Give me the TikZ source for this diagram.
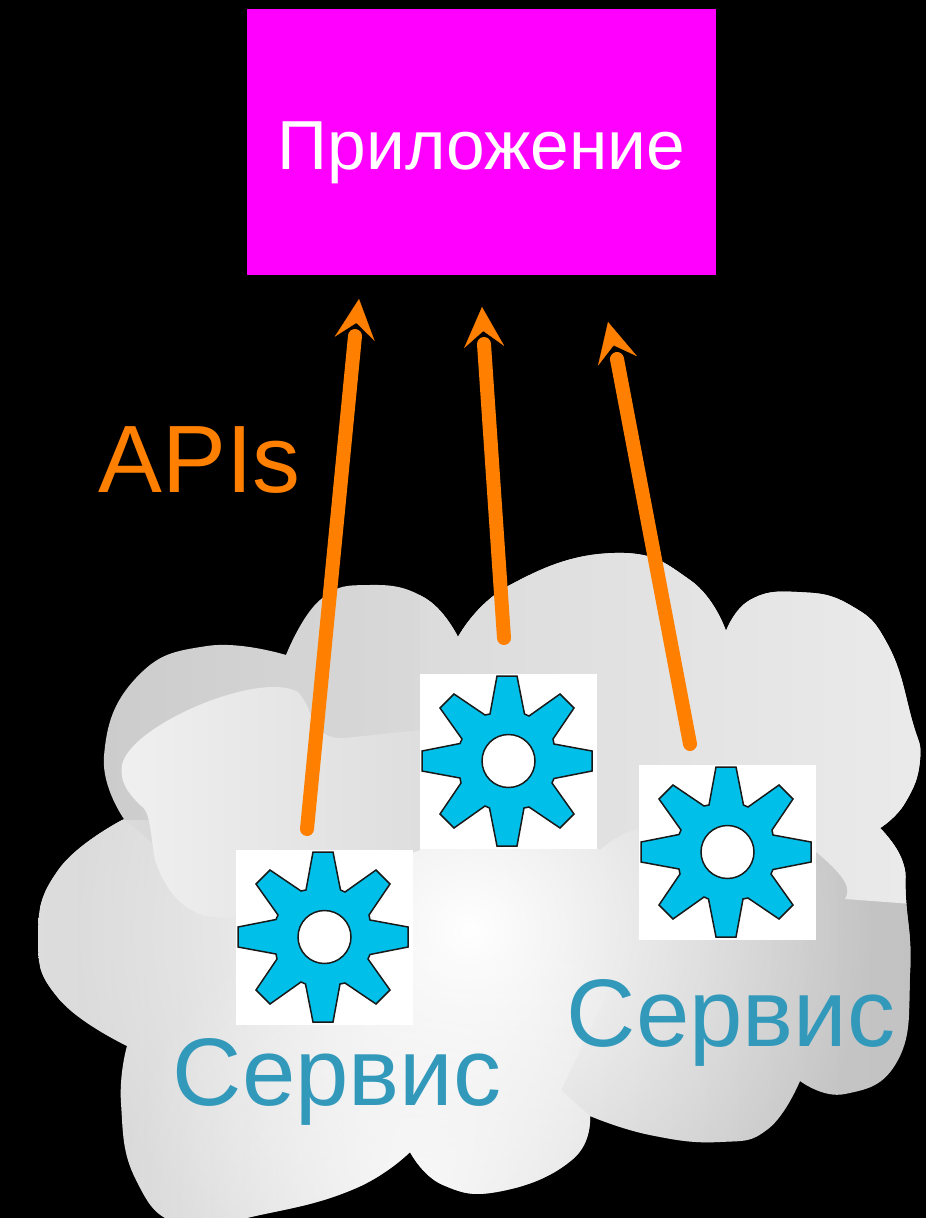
\documentclass[tikz,border=0pt]{standalone}
\usepackage{xcolor}
\usepackage{fontspec}
\setmainfont{Liberation Sans}
\usetikzlibrary{positioning,calc,arrows.meta,fadings}

\definecolor{appmagenta}{HTML}{FF00FF}
\definecolor{apiorange}{HTML}{FF8000}
\definecolor{servicetext}{HTML}{3399BB}
\definecolor{cogblue}{HTML}{00BFE8}

\tikzfading[name=cloudglow,inner color=transparent!0,outer color=transparent!100]

\newcommand{\cloudoutline}{
    plot[smooth,tension=.8] coordinates {(286,655) (320,600) (369,585) (425,598) (458,637)}
    -- plot[smooth,tension=.8] coordinates {(458,637) (510,585) (614,553) (690,580) (726,631)}
    -- plot[smooth,tension=.8] coordinates {(726,631) (750,600) (797,592) (850,605) (888,645) (912,720) (920,760) (905,803) (880,828)}
    -- plot[smooth,tension=.8] coordinates {(880,828) (902,860) (906,900) (910,973) (898,1060) (845,1094) (800,1081)}
    -- plot[smooth,tension=.8] coordinates {(800,1081) (768,1129) (720,1142) (650,1135) (590,1116)}
    -- plot[smooth,tension=.8] coordinates {(590,1116) (573,1159) (502,1191) (443,1185) (410,1152)}
    -- plot[smooth,tension=.8] coordinates {(410,1152) (354,1189) (260,1215) (183,1225) (136,1180) (121,1103) (127,1046)}
    -- plot[smooth,tension=.8] coordinates {(127,1046) (59,999) (38,938) (59,869) (124,819)}
    -- plot[smooth,tension=.8] coordinates {(124,819) (104,756) (136,678) (207,646) (286,655)}
    -- cycle
}

\tikzset{
    appbox/.style={fill=appmagenta,minimum width=9.38cm,minimum height=5.32cm,inner sep=0pt},
    apptext/.style={text=white,font=\fontsize{39.5}{39.5}\selectfont},
    cogbox/.style={fill=white,minimum width=3.54cm,minimum height=3.5cm,inner sep=0pt},
    apiline/.style={apiorange,line width=.28cm,line cap=round},
    apihead/.style={apiorange,line width=.1pt,shorten <=.24cm,-{Stealth[length=.8cm,width=.8cm,inset=.32cm]}},
    apilabel/.style={text=apiorange,font=\fontsize{54.5}{54.5}\selectfont},
    servicelabel/.style={text=servicetext,font=\fontsize{54.6}{54.6}\selectfont},
    cog/.pic={
        \draw[fill=cogblue,draw=black!90,line width=.03cm] (-10,-85)
            \foreach \r in {0,-90,-180,-270} {
                -- ([rotate=\r]-10,-85) -- ([rotate=\r]10,-85) -- ([rotate=\r]17.5,-47) -- ([rotate=\r]22,-45)
                -- ([rotate=\r]53,-67) -- ([rotate=\r]67,-53) -- ([rotate=\r]46,-22) -- ([rotate=\r]47,-17)
            } -- cycle;
        \draw[fill=white,draw=black!90,line width=.03cm] (1.5,0) circle (26.5);
    }
}

\begin{document}
\begin{tikzpicture}[x=.02cm,y=-.02cm]
    \useasboundingbox (0,0) rectangle (926,1218);
    \fill[black] (0,0) rectangle (926,1218);

    % Cloud
    \begin{scope}
        \clip \cloudoutline;
        \shade[left color=black!21,right color=black!7] (40,540) rectangle (926,1000);
        \shade[left color=black!13,right color=black!24] (0,820) rectangle (926,1218);
        % upper part, right of the service
        \shade[left color=black!14,right color=black!8] (420,730) -- (600,850)
            .. controls (640,815) and (700,810) .. (815,851)
            .. controls (850,880) and (850,890) .. (845,899) -- (926,905) -- (926,540) -- (420,540) -- cycle;
        % centre
        \begin{scope}
            \clip (420,730) -- (600,850)
                .. controls (640,815) and (700,810) .. (815,851)
                .. controls (850,880) and (850,890) .. (845,899) -- (926,905) -- (926,1218) -- (0,1218) -- (100,800) -- (240,915) -- cycle;
            \fill[white,path fading=cloudglow] (470,930) circle (400);
        \end{scope}
        % upper left highlight
        \shade[left color=black!6,right color=black!13] (122,765) .. controls (130,725) and (260,670) .. (298,692)
            .. controls (315,710) and (310,740) .. (345,738) -- (420,730) -- (420,850) -- (240,915)
            .. controls (200,925) and (170,905) .. (155,860)
            .. controls (150,830) and (150,810) .. (140,805)
            .. controls (125,790) and (120,780) .. (122,765) -- cycle;
        % bottom highlight
        \begin{scope}
            \clip (0,1218) -- (0,800) -- (700,800) -- (561,1090) -- (590,1116) -- (590,1218) -- cycle;
            \fill[white,opacity=.75,path fading=cloudglow] (420,1190) circle (300);
        \end{scope}
    \end{scope}

    % Application
    \node[appbox] (app) at (481.5,142) {};
    \node[apptext] (appname) at (481.5,153) {Приложение};

    % Services
    \node[cogbox] (cogleft) at (324.5,937.5) {};
    \node[cogbox] (cogmiddle) at (508.5,761.5) {};
    \node[cogbox] (cogright) at (727.5,852.5) {};
    \pic at (323,937) {cog};
    \pic at (507,761) {cog};
    \pic at (726,852) {cog};

    \node[servicelabel] (serviceleft) at (337,1082) {Сервис};
    \node[servicelabel] (serviceright) at (731,1023) {Сервис};
    \node[apilabel] (apis) at (199.5,460) {APIs};

    % APIs
    \coordinate (tailleft) at (307,829);
    \coordinate (endleft) at (355,336);
    \coordinate (tipleft) at (359,299);
    \coordinate (tailmiddle) at (504,638);
    \coordinate (endmiddle) at (484,344);
    \coordinate (tipmiddle) at (482,307);
    \coordinate (tailright) at (690,744);
    \coordinate (endright) at (617,359);
    \coordinate (tipright) at (608,322);
    \draw[apiline] (tailleft) -- (endleft);
    \draw[apihead] (endleft) -- (tipleft);
    \draw[apiline] (tailmiddle) -- (endmiddle);
    \draw[apihead] (endmiddle) -- (tipmiddle);
    \draw[apiline] (tailright) -- (endright);
    \draw[apihead] (endright) -- (tipright);
\end{tikzpicture}
\end{document}
